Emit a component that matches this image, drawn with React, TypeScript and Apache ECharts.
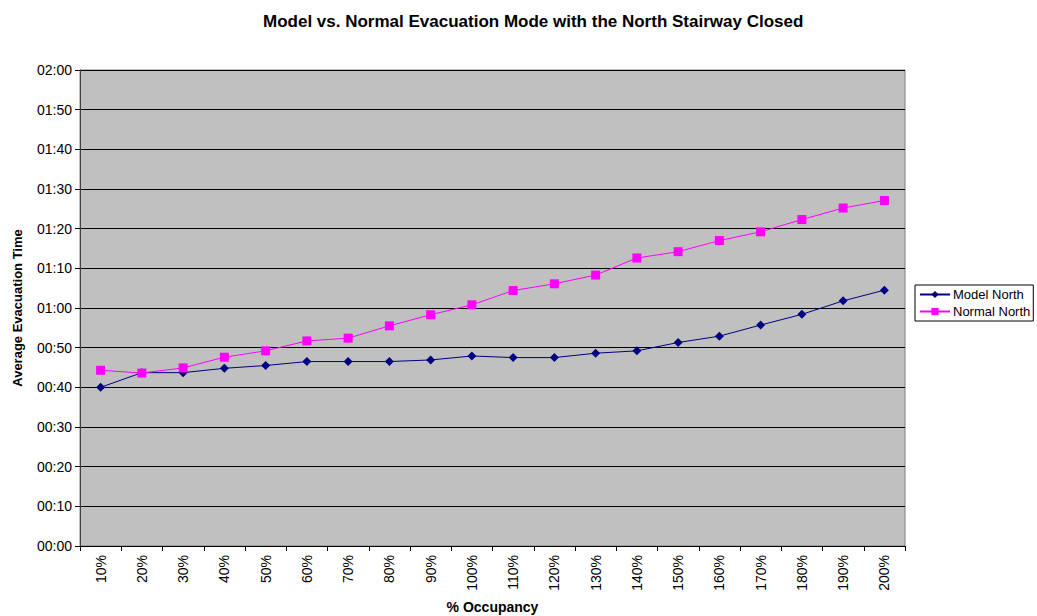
import React, { useEffect, useRef } from "react";
import * as echarts from "echarts";

const categories = ["10%", "20%", "30%", "40%", "50%", "60%", "70%", "80%", "90%", "100%", "110%", "120%", "130%", "140%", "150%", "160%", "170%", "180%", "190%", "200%"];
// seconds
const modelNorth = [40.0, 43.7, 43.7, 44.8, 45.5, 46.5, 46.5, 46.5, 46.9, 47.9, 47.5, 47.5, 48.6, 49.2, 51.3, 52.9, 55.7, 58.4, 61.8, 64.5];
const normalNorth = [44.3, 43.6, 44.9, 47.6, 49.2, 51.7, 52.4, 55.5, 58.3, 60.8, 64.4, 66.1, 68.3, 72.6, 74.2, 77.0, 79.2, 82.3, 85.2, 87.1];

const fmt = (v: number) => {
  const m = Math.floor(v / 60);
  const s = Math.round(v % 60);
  return String(m).padStart(2, "0") + ":" + String(s).padStart(2, "0");
};

const FONT = "Liberation Sans, Arial, sans-serif";

export default function App() {
  const ref = useRef<HTMLDivElement>(null);
  useEffect(() => {
    document.body.style.margin = "0";
    const chart = echarts.init(ref.current!, null, { renderer: "svg" });
    chart.setOption({
      animation: false,
      backgroundColor: "#ffffff",
      textStyle: { fontFamily: FONT },
      title: {
        text: "Model vs. Normal Evacuation Mode with the North Stairway Closed",
        left: 258,
        top: 8,
        textStyle: { fontSize: 17, fontWeight: "bold", color: "#000", fontFamily: FONT },
      },
      legend: {
        left: 915,
        top: 285,
        orient: "vertical",
        borderColor: "#000",
        borderWidth: 1,
        padding: [3, 3, 3, 4],
        itemGap: 4,
        itemWidth: 30,
        itemHeight: 9,
        textStyle: { fontSize: 13, color: "#000", fontFamily: FONT, padding: [0, 0, 0, -2] },
        data: ["Model North", "Normal North"],
      },
      grid: {
        left: 80,
        top: 70,
        right: 132,
        bottom: 70,
        outerBoundsMode: "none",
        containLabel: false,
        show: true,
        backgroundColor: "#C0C0C0",
        borderColor: "#808080",
        borderWidth: 1,
      },
      xAxis: {
        type: "category",
        data: categories,
        boundaryGap: true,
        name: "% Occupancy",
        nameLocation: "middle",
        nameGap: 54,
        nameTextStyle: { fontSize: 14, fontWeight: "bold", color: "#000", fontFamily: FONT },
        axisLine: { lineStyle: { color: "#000", width: 1 } },
        axisTick: { show: true, length: 5, lineStyle: { color: "#000" } },
        axisLabel: { rotate: 90, fontSize: 14, color: "#000", margin: 9, fontFamily: FONT, interval: 0 },
      },
      yAxis: {
        type: "value",
        min: 0,
        max: 120,
        interval: 10,
        name: "Average Evacuation Time",
        nameLocation: "middle",
        nameGap: 56,
        nameTextStyle: { fontSize: 13, fontWeight: "bold", color: "#000", fontFamily: FONT },
        axisLine: { show: true, lineStyle: { color: "#404040", width: 1 } },
        axisTick: { show: true, length: 5, lineStyle: { color: "#000" } },
        axisLabel: { fontSize: 14, color: "#000", margin: 8, fontFamily: FONT, formatter: (v: number) => fmt(v) },
        splitLine: { show: true, lineStyle: { color: "#000", width: 1 } },
      },
      series: [
        {
          name: "Model North",
          type: "line",
          data: modelNorth,
          symbol: "diamond",
          symbolSize: 9,
          itemStyle: { color: "#000080" },
          lineStyle: { color: "#000080", width: 1 },
        },
        {
          name: "Normal North",
          type: "line",
          data: normalNorth,
          symbol: "rect",
          symbolSize: 9,
          itemStyle: { color: "#FF00FF" },
          lineStyle: { color: "#FF00FF", width: 1 },
        },
      ],
    });
    return () => chart.dispose();
  }, []);
  return <div ref={ref} style={{ position: "fixed", left: 0, top: 0, width: 1037, height: 616 }} />;
}
